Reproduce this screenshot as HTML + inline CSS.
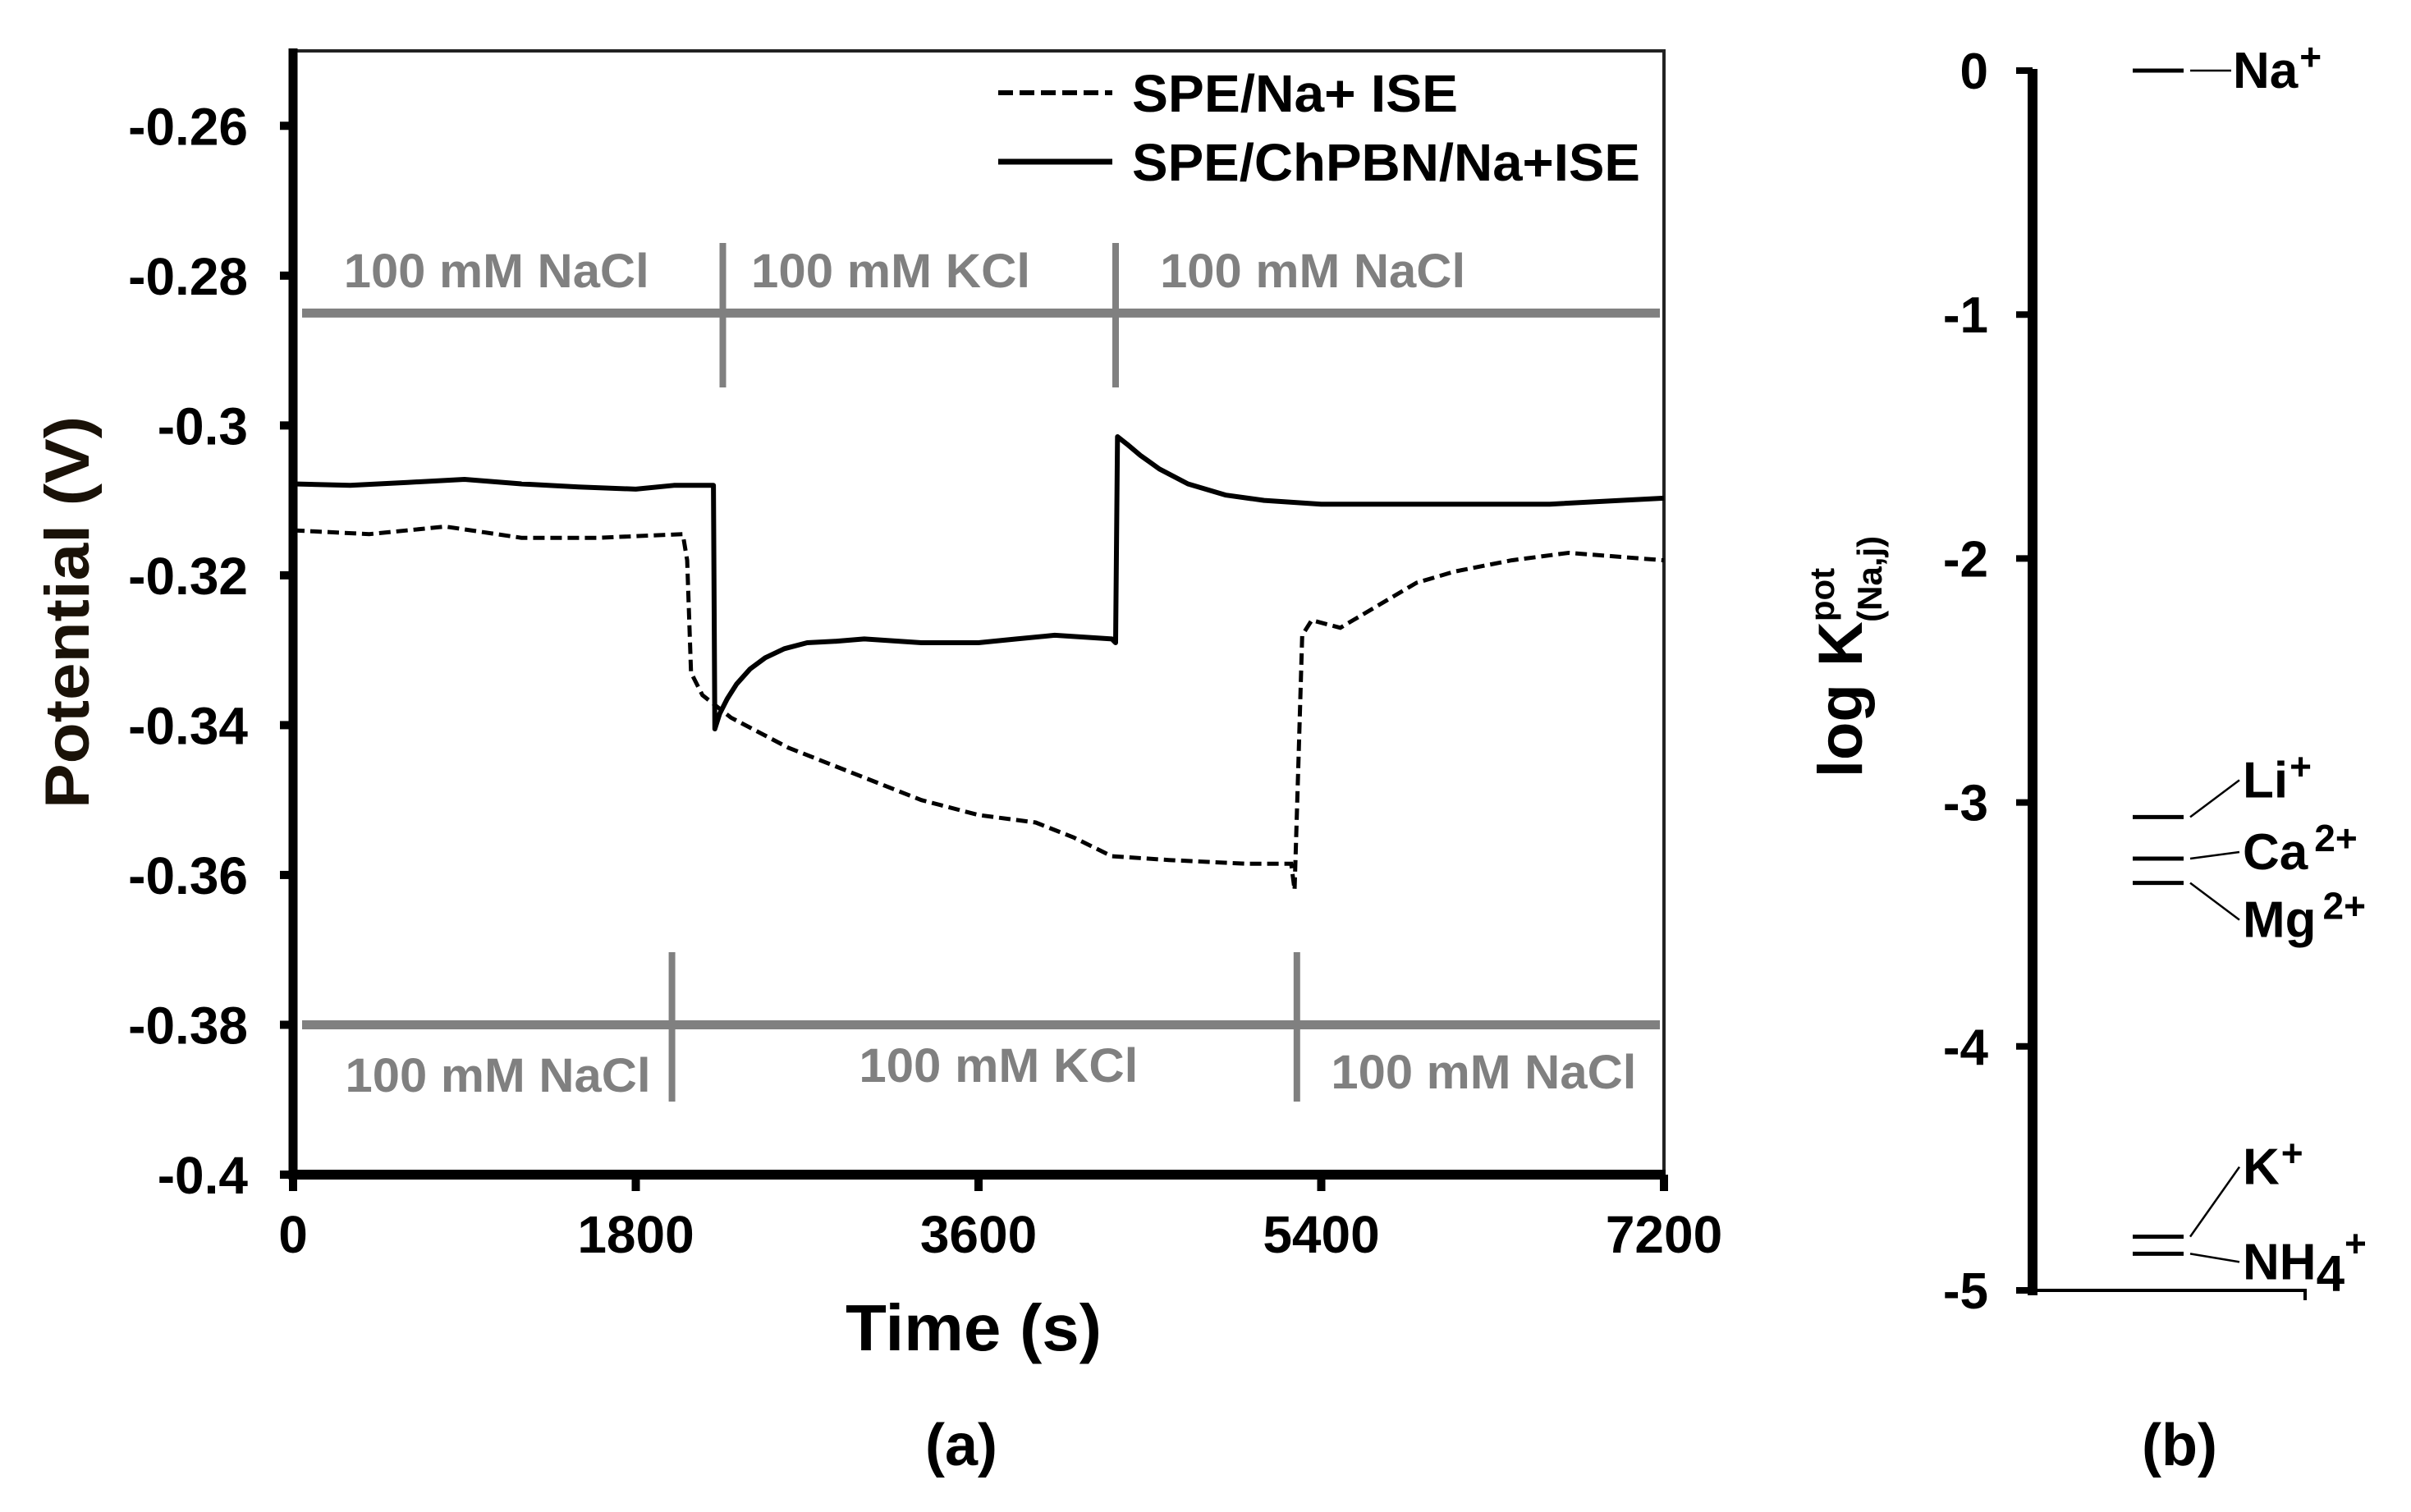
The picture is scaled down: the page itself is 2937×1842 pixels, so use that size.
<!DOCTYPE html>
<html><head><meta charset="utf-8"><style>
html,body{margin:0;padding:0;background:#fff;}
svg{display:block;}
text{font-family:"Liberation Sans",Arial,sans-serif;font-weight:bold;}
</style></head><body>
<svg id="chart" width="2937" height="1842" viewBox="0 0 2937 1842" xmlns="http://www.w3.org/2000/svg">
<g id="pa"></g>
<g id="pb"></g>
</svg>
<script>
// ---- Panel (a) data ----
const xTicks = [0, 1800, 3600, 5400, 7200];
const yTicks = [-0.26, -0.28, -0.3, -0.32, -0.34, -0.36, -0.38, -0.4];
const yTickLabels = ["-0.26", "-0.28", "-0.3", "-0.32", "-0.34", "-0.36", "-0.38", "-0.4"];
const solidT = [0, 300, 600, 900, 1200, 1500, 1800, 2000, 2208, 2215, 2240, 2280, 2330, 2400, 2480, 2580, 2700, 2850, 3000, 3300, 3600, 3800, 4000, 4300, 4320, 4330, 4380, 4450, 4550, 4700, 4900, 5100, 5400, 6000, 6600, 7200];
const solidV = [-0.3078, -0.3080, -0.3076, -0.3072, -0.3078, -0.3082, -0.3085, -0.3080, -0.3080, -0.3405, -0.3385, -0.3365, -0.3345, -0.3325, -0.331, -0.3298, -0.329, -0.3288, -0.3285, -0.329, -0.329, -0.3285, -0.328, -0.3285, -0.329, -0.3015, -0.3025, -0.304, -0.3058, -0.3078, -0.3093, -0.3100, -0.3105, -0.3105, -0.3105, -0.3097];
const dashT = [0, 400, 800, 1200, 1600, 2047, 2070, 2090, 2150, 2300, 2600, 3000, 3300, 3600, 3900, 4100, 4300, 4600, 5000, 5242, 5260, 5280, 5300, 5350, 5500, 5700, 5900, 6100, 6400, 6700, 7200];
const dashV = [-0.3140, -0.3145, -0.3135, -0.3150, -0.3150, -0.3145, -0.318, -0.333, -0.336, -0.339, -0.343, -0.347, -0.350, -0.352, -0.353, -0.355, -0.3575, -0.358, -0.3585, -0.3585, -0.362, -0.345, -0.328, -0.326, -0.327, -0.324, -0.321, -0.3195, -0.318, -0.317, -0.318];
const topSteps = [2257, 4320];
const topLabelT = [1068, 3139, 5355];
const topLabels = ["100 mM NaCl", "100 mM KCl", "100 mM NaCl"];
const botSteps = [1990, 5272];
const botLabelT = [1076, 3705, 6253];
const botLabels = ["100 mM NaCl", "100 mM KCl", "100 mM NaCl"];
// ---- Panel (b) data ----
const bTicks = [0, -1, -2, -3, -4, -5];
const ions = ["Na", "Li", "Ca", "Mg", "K", "NH4"];
const ionLogK = [0, -3.06, -3.23, -3.33, -4.78, -4.85];

const NS = "http://www.w3.org/2000/svg";
function mk(parent, tag, attrs, txt) {
  const e = document.createElementNS(NS, tag);
  for (const k in attrs) e.setAttribute(k, attrs[k]);
  if (txt !== undefined) e.textContent = txt;
  parent.appendChild(e);
  return e;
}
const X0 = 357, X1 = 2027, YT = 62, YB = 1431;
const sx = t => X0 + t / 7200 * (X1 - X0);
const sy = v => YT + (-0.25 - v) / 0.15 * (YB - YT);
const pa = document.getElementById("pa");

let e = mk(pa, "path", {d: `M${X0} ${YT} H${X1} V${YB}`, fill: "none", stroke: "#222", "stroke-width": 4});


e = mk(pa, "line", {x1: X0, y1: YT - 3, x2: X0, y2: YB + 6, stroke: "#000", "stroke-width": 11});


e = mk(pa, "line", {x1: X0 - 5, y1: YB, x2: X1 + 2, y2: YB, stroke: "#000", "stroke-width": 12});



yTicks.forEach((v, i) => {
  const y = sy(v);
  let t = mk(pa, "line", {x1: X0 - 16, y1: y, x2: X0, y2: y, stroke: "#000", "stroke-width": 10});
  
  
  let l = mk(pa, "text", {x: 302, y: y + 23, "font-size": 64, "text-anchor": "end"}, yTickLabels[i]);
  
  
});
xTicks.forEach(t => {
  const x = sx(t);
  let k = mk(pa, "line", {x1: x, y1: YB, x2: x, y2: YB + 20, stroke: "#000", "stroke-width": 10});
  
  
  let l = mk(pa, "text", {x: x, y: 1526, "font-size": 64, "text-anchor": "middle", style: "font-family:'Liberation Sans Narrow','Liberation Sans',sans-serif"}, String(t));
  
  
});

function steps(steps, labelT, labels, v, y0, y1, labelY, name) {
  const y = sy(v);
  let ln = mk(pa, "line", {x1: 368, y1: y, x2: 2022, y2: y, stroke: "#808080", "stroke-width": 11});
  
  
  steps.forEach(s => {
    let d = mk(pa, "line", {x1: sx(s), y1: y0, x2: sx(s), y2: y1, stroke: "#808080", "stroke-width": 8});
    
    
  });
  labels.forEach((s, i) => {
    let l = mk(pa, "text", {x: sx(labelT[i]), y: labelY[i], "font-size": 58, fill: "#808080", "text-anchor": "middle", textLength: 372, lengthAdjust: "spacingAndGlyphs"}, s);
    if (s.indexOf("KCl") >= 0) l.setAttribute("textLength", 340);
    
    
  });
}
steps(topSteps, topLabelT, topLabels, -0.285, 296, 472, [350, 350, 350], "top-solution");
steps(botSteps, botLabelT, botLabels, -0.38, 1160, 1342, [1330, 1318, 1326], "bottom-solution");

function pathOf(T, V) { return T.map((t, i) => (i ? "L" : "M") + sx(t).toFixed(1) + " " + sy(V[i]).toFixed(1)).join(" "); }
e = mk(pa, "path", {d: pathOf(dashT, dashV), fill: "none", stroke: "#000", "stroke-width": 5, "stroke-dasharray": "14 7"});


e = mk(pa, "path", {d: pathOf(solidT, solidV), fill: "none", stroke: "#000", "stroke-width": 6, "stroke-linejoin": "round"});



e = mk(pa, "line", {x1: 1216, y1: 113, x2: 1355, y2: 113, stroke: "#000", "stroke-width": 6, "stroke-dasharray": "18 8"});


e = mk(pa, "text", {x: 1379, y: 136, "font-size": 64, textLength: 397, lengthAdjust: "spacingAndGlyphs"}, "SPE/Na+ ISE");


e = mk(pa, "line", {x1: 1216, y1: 197, x2: 1355, y2: 197, stroke: "#000", "stroke-width": 7});


e = mk(pa, "text", {x: 1379, y: 220, "font-size": 64, textLength: 619, lengthAdjust: "spacingAndGlyphs"}, "SPE/ChPBN/Na+ISE");



e = mk(pa, "text", {x: 0, y: 0, "font-size": 76, "text-anchor": "middle", textLength: 478, lengthAdjust: "spacingAndGlyphs", fill: "#1a1208", transform: "translate(108 746) rotate(-90)"}, "Potential (V)");


e = mk(pa, "text", {x: 1186, y: 1645, "font-size": 80, "text-anchor": "middle", textLength: 312, lengthAdjust: "spacingAndGlyphs"}, "Time (s)");


e = mk(pa, "text", {x: 1171, y: 1785, "font-size": 72, "text-anchor": "middle"}, "(a)");



// ---- Panel (b) ----
const pb = document.getElementById("pb");
const BX = 2476, BY0 = 86, BY5 = 1572, BXR = 2808;
const by = v => BY0 + (-v) / 5 * (BY5 - BY0);
e = mk(pb, "line", {x1: BX, y1: BY0 - 2, x2: BX, y2: BY5 + 6, stroke: "#000", "stroke-width": 12});


e = mk(pb, "path", {d: `M${BX} ${BY5} H${BXR} V${BY5 + 12}`, fill: "none", stroke: "#000", "stroke-width": 4});


bTicks.forEach(v => {
  const y = by(v);
  let t = mk(pb, "line", {x1: BX - 20, y1: y, x2: BX, y2: y, stroke: "#000", "stroke-width": 8});
  
  
  let l = mk(pb, "text", {x: 2422, y: y + 22, "font-size": 62, "text-anchor": "end"}, String(v));
  
  
});
const labDY = [0, -45, -8, 45, -85, 10];
const labSup = ["+", "+", "2+", "2+", "+", "+"];
ions.forEach((ion, i) => {
  const y = by(ionLogK[i]);
  const ly = y + labDY[i];
  let m = mk(pb, "line", {x1: 2598, y1: y, x2: 2660, y2: y, stroke: "#000", "stroke-width": 5});
  
  
  let ld = mk(pb, "line", {x1: 2668, y1: y, x2: i === 0 ? 2718 : 2728, y2: ly, stroke: "#000", "stroke-width": 2.5});
  
  
  let t = mk(pb, "text", {x: i === 0 ? 2720 : 2732, y: ly + 21, "font-size": 62});
  
  
  if (ion === "NH4") {
    mk(t, "tspan", {}, "NH");
    mk(t, "tspan", {dy: 14}, "4");
    mk(t, "tspan", {dy: -42, "font-size": 46}, labSup[i]);
  } else {
    mk(t, "tspan", {}, ion);
    mk(t, "tspan", {dy: -22, "font-size": 46, dx: labSup[i] === "2+" ? 8 : 2}, labSup[i]);
  }
});
e = mk(pb, "text", {x: 0, y: 0, "font-size": 76, "text-anchor": "middle", transform: "translate(2268 800) rotate(-90)"});


mk(e, "tspan", {}, "log K");
mk(e, "tspan", {dy: -34, "font-size": 42}, "pot");
mk(e, "tspan", {dy: 58, dx: -66, "font-size": 42}, "(Na,j)");
e = mk(pb, "text", {x: 2655, y: 1785, "font-size": 72, "text-anchor": "middle"}, "(b)");


</script>
</body></html>
